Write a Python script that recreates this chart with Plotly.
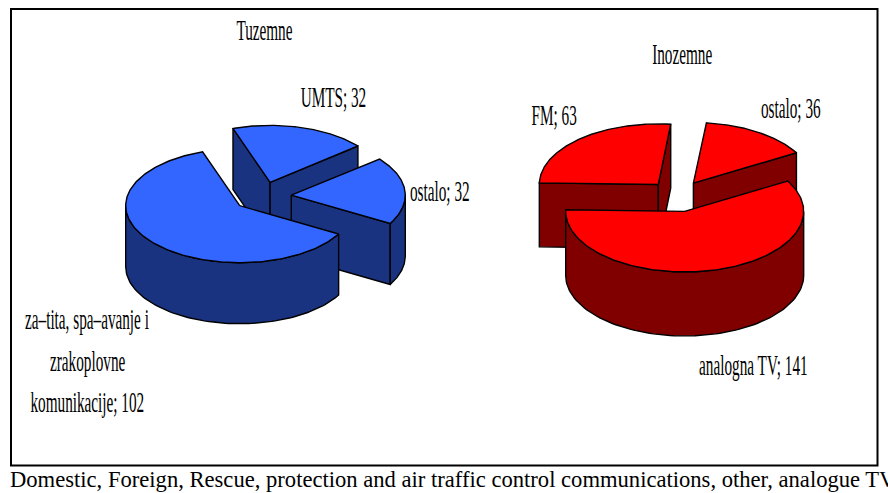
import numpy as np
import plotly.graph_objects as go

# ---- data -----
domestic_title = "Tuzemne"
domestic_values = [32, 32, 102]
foreign_title = "Inozemne"
foreign_values = [36, 141, 63]
label_umts = "UMTS; 32"
label_dom_other = "ostalo; 32"
label_protection = ["za–tita, spa–avanje i", "zrakoplovne", "komunikacije; 102"]
label_fm = "FM; 63"
label_for_other = "ostalo; 36"
label_analog = "analogna TV; 141"
caption = "Domestic, Foreign, Rescue, protection and air traffic control communications, other, analogue TV"

SERIF = "Liberation Serif"
W, H = 888, 493


def xy(cx, cy, rx, ry, t):
    """t = clockwise degrees from 12 o'clock, on the tilted ellipse."""
    r = np.radians(t)
    return cx + rx * np.sin(r), cy - ry * np.cos(r)


def poly(fig, xs, ys, fill):
    fig.add_trace(go.Scatter(
        x=list(xs) + [xs[0]], y=list(ys) + [ys[0]], mode="lines", fill="toself",
        fillcolor=fill, line=dict(color="black", width=1.4), hoverinfo="skip",
        showlegend=False))


def pie3d(fig, values, first, cx, cy, rx, ry, depth, ex_x, ex_y, top, side):
    total = sum(values)
    spans = [v / total * 360 for v in values]
    starts = first + np.concatenate([[0], np.cumsum(spans)[:-1]])
    items = []
    for a, s in zip(starts, spans):
        mid = a + s / 2
        ax, ay = xy(cx, cy, rx * ex_x, ry * ex_y, mid)
        items.append((ay, ax, a, a + s))
    for ay, ax, a, b in sorted(items):
        # radial faces turned towards the viewer
        for edge, visible in ((a, np.sin(np.radians(a)) < 0), (b, np.sin(np.radians(b)) > 0)):
            if visible:
                ex, ey = xy(ax, ay, rx, ry, edge)
                poly(fig, [ax, ex, ex, ax], [ay, ey, ey + depth, ay + depth], side)
        # outer wall: the front half of the arc, in each turn of the circle
        for k in (-360, 0, 360):
            lo, hi = max(a, 90 + k), min(b, 270 + k)
            if hi > lo:
                ts = np.linspace(lo, hi, 90)
                ex, ey = xy(ax, ay, rx, ry, ts)
                poly(fig, np.r_[ex, ex[::-1]], np.r_[ey, ey[::-1] + depth], side)
        # top face
        ts = np.linspace(a, b, 180)
        ex, ey = xy(ax, ay, rx, ry, ts)
        poly(fig, np.r_[ax, ex], np.r_[ay, ey], top)


fig = go.Figure()
pie3d(fig, domestic_values, -19, 262.2, 196.4, 114, 57, 61, 0.256, 0.256, "#3366FF", "#1A3380")
pie3d(fig, foreign_values, 6, 677.5, 196.2, 119, 60.6, 64, 0.245, 0.258, "#FF0000", "#800000")

notes = [
    (domestic_title, 264, 30), (foreign_title, 682, 54),
    (label_umts, 333, 97), (label_dom_other, 440, 191),
    (label_protection[0], 87, 319), (label_protection[1], 87, 361), (label_protection[2], 87, 402),
    (label_fm, 554, 115), (label_for_other, 791, 108), (label_analog, 753, 365),
]
for text, x, y in notes:
    fig.add_annotation(x=x, y=y, text=text, showarrow=False, xanchor="center", yanchor="middle",
                       font=dict(family=SERIF, size=29, color="black"))
fig.add_annotation(x=8, y=479, text=caption, showarrow=False, xanchor="left", yanchor="middle",
                   font=dict(family=SERIF, size=22.6, color="black"))

fig.add_shape(type="rect", xref="x", yref="y", x0=11, y0=9, x1=877.5, y1=465.5,
              line=dict(color="black", width=2), fillcolor="rgba(0,0,0,0)", layer="below")
fig.update_layout(
    width=W, height=H, margin=dict(l=0, r=0, t=0, b=0), paper_bgcolor="white", plot_bgcolor="white",
    xaxis=dict(range=[0, W], visible=False, fixedrange=True),
    yaxis=dict(range=[H, 0], visible=False, fixedrange=True),
    showlegend=False,
)

# Squeeze the chart labels horizontally, as in the original picture.
post = """
document.body.style.margin='0';
document.body.style.overflow='hidden';
document.querySelectorAll('.annotation-text').forEach(function(t){
  if (t.textContent.indexOf('Domestic')===0) return;
  t.setAttribute('textLength', t.getComputedTextLength()*0.525);
  t.setAttribute('lengthAdjust','spacingAndGlyphs');
});
"""
fig.write_html("out.html", config=dict(displayModeBar=False), post_script=post)
